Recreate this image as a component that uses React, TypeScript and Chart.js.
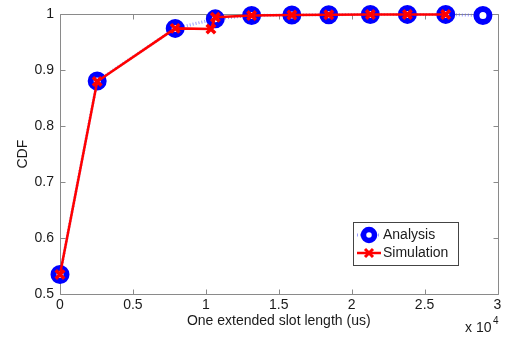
import React, { useEffect, useRef } from "react";
import { Chart, registerables } from "chart.js";

Chart.register(...registerables);

// x values in microseconds (axis shows them x 10^4)
const analysisX = [0, 2550, 7900, 10650, 13140, 15900, 18430, 21280, 23820, 26450, 29000];
const analysisY = [0.535, 0.881, 0.975, 0.992, 0.998, 0.999, 0.9995, 0.9998, 1, 1, 0.998];

const simulationX = [0, 2550, 7900, 10350, 10650, 13140, 15900, 18430, 21280, 23820, 26450];
const simulationY = [0.535, 0.88, 0.975, 0.974, 0.995, 0.998, 0.999, 0.9995, 1, 1, 1];

const xTickLabels = ["0", "0.5", "1", "1.5", "2", "2.5", "3"];
const yTickLabels = ["0.5", "0.6", "0.7", "0.8", "0.9", "1"];

const FONT = "'Liberation Sans', Arial, Helvetica, sans-serif";

export default function App() {
  const ref = useRef<HTMLCanvasElement | null>(null);

  useEffect(() => {
    if (!ref.current) return;

    const frame = {
      id: "frame",
      beforeDatasetsDraw(chart: any) {
        const { ctx, chartArea } = chart;
        const { left, right, top, bottom } = chartArea;
        const xs = chart.scales.x;
        const ys = chart.scales.y;
        ctx.save();
        ctx.strokeStyle = "#8a8a8a";
        ctx.lineWidth = 1;
        const L = Math.round(left) + 0.5;
        const R = Math.round(right) + 0.5;
        const T = Math.round(top) + 0.5;
        const B = Math.round(bottom) + 0.5;
        ctx.beginPath();
        ctx.rect(L, T, R - L, B - T);
        ctx.stroke();
        const tl = 5;
        ctx.beginPath();
        xs.ticks.forEach((t: any) => {
          const p = Math.round(xs.getPixelForValue(t.value)) + 0.5;
          ctx.moveTo(p, B);
          ctx.lineTo(p, B - tl);
          ctx.moveTo(p, T);
          ctx.lineTo(p, T + tl);
        });
        ys.ticks.forEach((t: any) => {
          const p = Math.round(ys.getPixelForValue(t.value)) + 0.5;
          ctx.moveTo(L, p);
          ctx.lineTo(L + tl, p);
          ctx.moveTo(R, p);
          ctx.lineTo(R - tl, p);
        });
        ctx.stroke();
        ctx.restore();
      },
      afterDraw(chart: any) {
        const { ctx, chartArea } = chart;
        const { left, right, top, bottom } = chartArea;
        ctx.save();
        ctx.fillStyle = "#1a1a1a";
        ctx.font = `14px ${FONT}`;
        // x title
        ctx.textAlign = "center";
        ctx.textBaseline = "middle";
        ctx.fillText("One extended slot length (us)", (left + right) / 2, 321);
        // y title
        ctx.save();
        ctx.translate(23, (top + bottom) / 2);
        ctx.rotate(-Math.PI / 2);
        ctx.fillText("CDF", 0, 0);
        ctx.restore();
        // multiplier
        ctx.textAlign = "left";
        ctx.fillText("x 10", 465, 328);
        ctx.font = `10px ${FONT}`;
        ctx.fillText("4", 493, 321);

        // legend
        const bx = 353.5, by = 222.5, bw = 105, bh = 43;
        ctx.fillStyle = "#ffffff";
        ctx.fillRect(bx, by, bw, bh);
        ctx.strokeStyle = "#444";
        ctx.lineWidth = 1;
        ctx.strokeRect(bx, by, bw, bh);
        // analysis entry
        const y1 = 235, y2 = 253;
        ctx.strokeStyle = "rgba(90,90,255,0.6)";
        ctx.lineWidth = 3;
        ctx.setLineDash([1, 2]);
        ctx.beginPath();
        ctx.moveTo(357, y1);
        ctx.lineTo(381, y1);
        ctx.stroke();
        ctx.setLineDash([]);
        ctx.strokeStyle = "#0000ff";
        ctx.fillStyle = "#ffffff";
        ctx.lineWidth = 5.5;
        ctx.beginPath();
        ctx.arc(369, y1, 5.5, 0, Math.PI * 2);
        ctx.fill();
        ctx.stroke();
        // simulation entry
        ctx.strokeStyle = "#ff0000";
        ctx.lineWidth = 2.5;
        ctx.beginPath();
        ctx.moveTo(357, y2);
        ctx.lineTo(381, y2);
        ctx.stroke();
        ctx.lineWidth = 3;
        ctx.beginPath();
        ctx.moveTo(365, y2 - 4);
        ctx.lineTo(373, y2 + 4);
        ctx.moveTo(373, y2 - 4);
        ctx.lineTo(365, y2 + 4);
        ctx.stroke();
        ctx.fillStyle = "#1a1a1a";
        ctx.font = `14px ${FONT}`;
        ctx.textAlign = "left";
        ctx.textBaseline = "middle";
        ctx.fillText("Analysis", 383, y1 + 0.5);
        ctx.fillText("Simulation", 383, y2 + 0.5);
        ctx.restore();
      },
    };

    const chart = new Chart(ref.current, {
      type: "line",
      data: {
        datasets: [
          {
            label: "Simulation",
            data: simulationX.map((x, i) => ({ x, y: simulationY[i] })),
            borderColor: "#ff0000",
            borderWidth: 2.5,
            pointStyle: "crossRot",
            pointRadius: 6,
            pointBorderWidth: 3.5,
            pointBorderColor: "#ff0000",
            pointBackgroundColor: "#ff0000",
            tension: 0,
            clip: false as any,
          },
          {
            label: "Analysis",
            data: analysisX.map((x, i) => ({ x, y: analysisY[i] })),
            borderColor: "rgba(90,90,255,0.6)",
            borderWidth: 3,
            borderDash: [1, 2],
            pointStyle: "circle",
            pointRadius: 6.5,
            pointBorderWidth: 6,
            pointBorderColor: "#0000ff",
            pointBackgroundColor: "#ffffff",
            tension: 0,
            clip: false as any,
          },
        ],
      },
      options: {
        animation: false,
        responsive: false,
        maintainAspectRatio: false,
        devicePixelRatio: 1,
        layout: { padding: { top: 8, right: 11, left: 0, bottom: 0 } },
        plugins: {
          legend: { display: false },
          tooltip: { enabled: false },
        },
        scales: {
          x: {
            type: "linear",
            min: 0,
            max: 30000,
            afterFit: (s: any) => {
              s.height = 47;
            },
            afterBuildTicks: (s: any) => {
              s.ticks = xTickLabels.map((_, i) => ({ value: i * 5000 }));
            },
            ticks: {
              callback: (_v: any, i: number) => xTickLabels[i],
              color: "#1a1a1a",
              font: { family: FONT, size: 14 },
              padding: 3,
              maxRotation: 0,
              autoSkip: false,
            },
            grid: { display: false, drawTicks: false },
            border: { display: false },
          },
          y: {
            type: "linear",
            min: 0.5,
            max: 1,
            afterFit: (s: any) => {
              s.width = 60;
            },
            afterBuildTicks: (s: any) => {
              s.ticks = yTickLabels.map((l) => ({ value: parseFloat(l) }));
            },
            ticks: {
              callback: (_v: any, i: number) => yTickLabels[i],
              color: "#1a1a1a",
              font: { family: FONT, size: 14 },
              padding: 6,
              autoSkip: false,
            },
            grid: { display: false, drawTicks: false },
            border: { display: false },
          },
        },
      },
      plugins: [frame],
    });

    return () => chart.destroy();
  }, []);

  return (
    <div style={{ position: "fixed", left: 0, top: 0 }}>
      <canvas ref={ref} width={510} height={341} style={{ width: 510, height: 341, display: "block" }} />
    </div>
  );
}
